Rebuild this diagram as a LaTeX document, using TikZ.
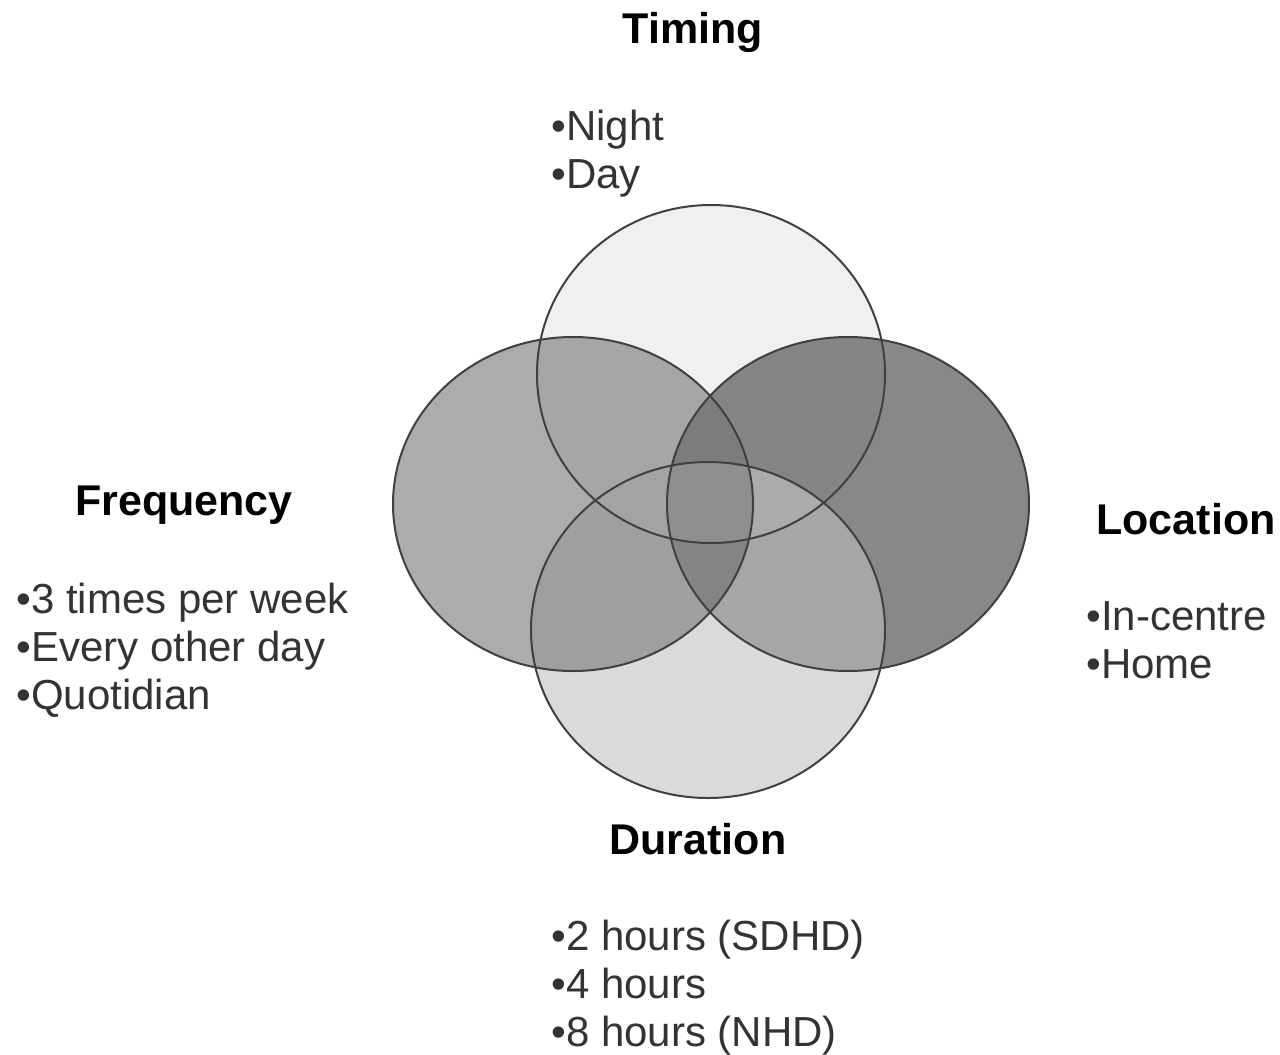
\documentclass[tikz,border=0pt]{standalone}
\usepackage{fontspec}
\setmainfont{Liberation Sans}
\begin{document}
\begin{tikzpicture}[x=0.5pt,y=-0.5pt,
  title/.style={font=\fontsize{21.5}{24}\selectfont\bfseries, text=black, inner sep=0pt, anchor=base},
  items/.style={font=\fontsize{21}{24}\selectfont, text=black!80, inner sep=0pt, anchor=base west, align=left},
  outline/.style={draw=black!75, line width=1pt}]
\useasboundingbox (0,0) rectangle (1280,1055);
\fill[white] (0,0) rectangle (1280,1055);
\def\pT{(711,374) ellipse [x radius=87pt, y radius=84.5pt]}
\def\pL{(573,504) ellipse [x radius=90pt, y radius=83.5pt]}
\def\pR{(848,504) ellipse [x radius=90.5pt, y radius=83.5pt]}
\def\pB{(708,630) ellipse [x radius=88.5pt, y radius=84pt]}
% singles
\fill[fill={rgb,255:red,240;green,240;blue,240}] \pT;
\fill[fill={rgb,255:red,218;green,218;blue,218}] \pB;
\fill[fill={rgb,255:red,172;green,172;blue,172}] \pL;
\fill[fill={rgb,255:red,136;green,136;blue,136}] \pR;
% pairs
\begin{scope}\clip \pT; \fill[fill={rgb,255:red,166;green,166;blue,166}] \pL; \end{scope}
\begin{scope}\clip \pT; \fill[fill={rgb,255:red,133;green,133;blue,133}] \pR; \end{scope}
\begin{scope}\clip \pB; \fill[fill={rgb,255:red,159;green,159;blue,159}] \pL; \end{scope}
\begin{scope}\clip \pB; \fill[fill={rgb,255:red,166;green,166;blue,166}] \pR; \end{scope}
\begin{scope}\clip \pL; \fill[fill={rgb,255:red,128;green,128;blue,128}] \pR; \end{scope}
\begin{scope}\clip \pT; \fill[fill={rgb,255:red,200;green,200;blue,200}] \pB; \end{scope}
% triples
\begin{scope}\clip \pT; \clip \pL; \fill[fill={rgb,255:red,124;green,124;blue,124}] \pR; \end{scope}
\begin{scope}\clip \pB; \clip \pL; \fill[fill={rgb,255:red,132;green,132;blue,132}] \pR; \end{scope}
\begin{scope}\clip \pT; \clip \pB; \fill[fill={rgb,255:red,163;green,163;blue,163}] \pL; \end{scope}
\begin{scope}\clip \pT; \clip \pB; \fill[fill={rgb,255:red,171;green,171;blue,171}] \pR; \end{scope}
% quadruple
\begin{scope}\clip \pT; \clip \pB; \clip \pL; \fill[fill={rgb,255:red,143;green,143;blue,143}] \pR; \end{scope}
% outlines
\draw[outline] \pT;
\draw[outline] \pL;
\draw[outline] \pR;
\draw[outline] \pB;
% texts (multi-line nodes: base is the last line)
\node[title] (timing) at (693,43) {Timing};
\node[items] (timingitems) at (551,188) {•Night\\•Day};
\node[title] (frequency) at (184,515) {Frequency};
\node[items] (frequencyitems) at (16,709) {•3 times per week\\•Every other day\\•Quotidian};
\node[title] (location) at (1186,534) {Location};
\node[items] (locationitems) at (1086,678) {•In-centre\\•Home};
\node[title] (duration) at (698,854) {Duration};
\node[items] (durationitems) at (551,1046) {•2 hours (SDHD)\\•4 hours\\•8 hours (NHD)};
\end{tikzpicture}
\end{document}
